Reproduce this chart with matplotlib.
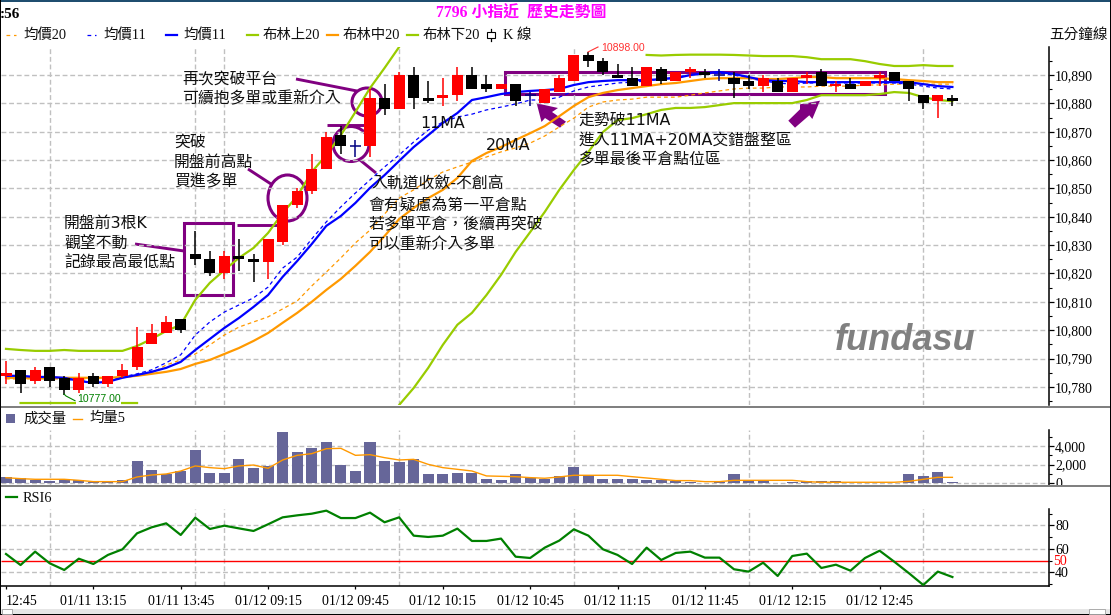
#!/usr/bin/env python3
"""
Five minute K line chart of 7796 with volume and RSI panels
"""
import numpy as np
import matplotlib
matplotlib.use('Agg')
import matplotlib.pyplot as plt
from matplotlib.patches import Ellipse, Polygon, Rectangle
from matplotlib.ticker import MultipleLocator, StrMethodFormatter

opens = [10784, 10786, 10782, 10787, 10783, 10779, 10784, 10781, 10784, 10787,
         10795, 10799, 10804, 10827, 10825, 10820, 10826, 10825, 10824, 10831,
         10844, 10849, 10857, 10869, 10865, 10865, 10882, 10878, 10890, 10882,
         10882, 10883, 10890, 10887, 10885, 10887, 10883, 10880, 10884, 10888,
         10897, 10895, 10890, 10889, 10886, 10892, 10888, 10891, 10891, 10890,
         10889, 10888, 10886, 10888, 10884, 10889, 10891, 10886, 10887, 10886,
         10889, 10891, 10888, 10883, 10881, 10882]
highs = [10789, 10786, 10787, 10787, 10784, 10785, 10785, 10784, 10788, 10801,
         10802, 10805, 10804, 10835, 10828, 10828, 10832, 10827, 10832, 10844,
         10850, 10862, 10870, 10872, 10867, 10885, 10887, 10891, 10893, 10888,
         10889, 10893, 10893, 10890, 10887, 10887, 10884, 10885, 10890, 10897,
         10898, 10896, 10894, 10893, 10893, 10893, 10891, 10893, 10892, 10892,
         10891, 10890, 10890, 10889, 10889, 10891, 10892, 10888, 10889, 10888,
         10891, 10891, 10888, 10883, 10883, 10883]
lows = [10781, 10778, 10781, 10780, 10777, 10778, 10780, 10780, 10783, 10786,
        10795, 10799, 10799, 10823, 10819, 10818, 10821, 10817, 10818, 10830,
        10843, 10848, 10857, 10862, 10861, 10861, 10876, 10878, 10878, 10880,
        10879, 10881, 10885, 10884, 10885, 10879, 10879, 10880, 10884, 10888,
        10893, 10890, 10889, 10886, 10886, 10887, 10888, 10889, 10889, 10888,
        10882, 10885, 10884, 10884, 10884, 10887, 10886, 10884, 10885, 10886,
        10886, 10888, 10881, 10878, 10875, 10879]
closes = [10785, 10781, 10786, 10782, 10779, 10783, 10781, 10784, 10786, 10794,
          10799, 10803, 10800, 10825, 10820, 10826, 10825, 10824, 10832, 10844,
          10849, 10857, 10868, 10865, 10865, 10882, 10878, 10890, 10882, 10881,
          10883, 10890, 10885, 10885, 10887, 10881, 10883, 10885, 10889, 10897,
          10895, 10891, 10889, 10886, 10893, 10888, 10891, 10892, 10890, 10890,
          10887, 10886, 10889, 10884, 10889, 10890, 10886, 10887, 10885, 10888,
          10890, 10888, 10885, 10880, 10883, 10881]

nan = float('nan')
boll_upper = [10793.4, 10793.0, 10792.7, 10792.7, 10793.0, 10792.7, 10792.7, 10792.7, 10792.7, 10794.4,
              10796.9, 10799.7, 10801.9, 10810.7, 10816.7, 10821.2, 10825.5, 10829.0, 10834.3, 10841.3,
              10847.3, 10855.8, 10861.8, 10868.8, 10877.0, 10885.4, 10892.5, 10899.9, nan, nan,
              nan, nan, nan, nan, nan, nan, nan, nan, nan, nan,
              nan, nan, nan, nan, 10897.1, 10896.9, 10897.1, 10897.2, 10897.2, 10897.2,
              10897.1, 10896.9, 10896.7, 10896.7, 10896.7, 10896.3, 10895.6, 10895.6, 10895.6, 10894.9,
              10893.9, 10893.2, 10893.2, 10893.5, 10893.2, 10893.2]
boll_lower = [nan, 10774.3, 10774.3, 10774.3, 10774.3, 10774.3, 10774.3, 10774.3, 10774.3, 10774.3,
              nan, nan, nan, nan, nan, nan, nan, nan, nan, nan,
              nan, nan, nan, nan, nan, nan, 10766.0, 10773.6, 10779.6, 10786.7,
              10794.8, 10801.9, 10806.1, 10812.4, 10819.5, 10827.6, 10834.6, 10841.7, 10849.5, 10856.5,
              10862.9, 10869.9, 10874.1, 10874.8, 10876.2, 10877.7, 10878.4, 10878.4, 10878.7, 10879.4,
              10880.1, 10880.1, 10880.1, 10880.1, 10880.1, 10881.2, 10882.9, 10882.9, 10882.9, 10882.9,
              10883.3, 10884.0, 10883.7, 10882.2, 10881.2, 10880.8]
boll_mid = [10783.2, 10783.2, 10783.2, 10783.2, 10783.2, 10783.2, 10783.2, 10783.2, 10783.5, 10783.9,
            10784.6, 10785.3, 10786.3, 10788.1, 10789.5, 10791.6, 10793.7, 10796.2, 10799.0, 10802.6,
            10806.1, 10810.0, 10814.2, 10818.1, 10822.7, 10827.6, 10833.2, 10839.2, 10843.1, 10846.6,
            10849.5, 10853.7, 10859.7, 10862.5, 10864.6, 10867.1, 10869.5, 10872.0, 10875.5, 10879.1,
            10882.2, 10883.7, 10884.7, 10885.4, 10886.1, 10886.8, 10887.2, 10887.9, 10888.6, 10888.9,
            10888.9, 10888.9, 10888.6, 10888.6, 10888.9, 10889.3, 10889.3, 10888.9, 10888.9, 10888.9,
            10888.9, 10888.6, 10888.2, 10887.9, 10887.5, 10887.5]
avg_price_11 = [10783.9, 10783.9, 10783.5, 10783.5, 10783.2, 10782.1, 10781.4, 10781.8, 10783.2, 10784.2,
                10785.3, 10786.7, 10788.8, 10793.0, 10796.9, 10800.8, 10804.3, 10808.2, 10812.4, 10818.8,
                10824.4, 10830.4, 10836.8, 10840.3, 10844.9, 10850.2, 10854.7, 10859.7, 10864.6, 10868.8,
                10873.1, 10876.6, 10881.2, 10882.2, 10883.3, 10884.0, 10884.4, 10884.7, 10885.1, 10886.5,
                10887.5, 10887.9, 10888.2, 10888.2, 10888.2, 10888.6, 10888.9, 10890.0, 10890.7, 10891.1,
                10890.4, 10889.3, 10888.2, 10887.9, 10887.9, 10887.5, 10887.5, 10887.5, 10887.5, 10887.5,
                10887.5, 10887.5, 10887.5, 10886.8, 10886.1, 10885.8]
avg_price_11_dash = [10783.5, 10783.5, 10783.5, 10783.2, 10782.8, 10782.1, 10781.8, 10782.1, 10783.5, 10784.6,
                     10786.0, 10788.5, 10791.3, 10798.3, 10802.9, 10806.4, 10808.9, 10811.4, 10815.2, 10821.9,
                     10825.8, 10832.2, 10838.2, 10843.5, 10848.4, 10853.0, 10857.6, 10861.8, 10866.4, 10870.6,
                     10873.4, 10875.2, 10876.2, 10877.7, 10878.7, 10879.8, 10881.2, 10881.2, 10882.2, 10884.4,
                     10885.8, 10886.5, 10887.2, 10887.5, 10887.9, 10888.6, 10889.3, 10890.0, 10890.4, 10890.7,
                     10890.0, 10888.9, 10887.9, 10887.2, 10886.8, 10887.2, 10887.2, 10887.2, 10887.2, 10887.2,
                     10887.2, 10887.2, 10886.8, 10886.1, 10885.4, 10885.1]
avg_price_20_dash = [10782.8, 10782.8, 10782.8, 10782.8, 10782.8, 10782.8, 10782.8, 10782.8, 10783.2, 10783.9,
                     10784.9, 10787.7, 10789.5, 10791.6, 10794.8, 10798.3, 10801.1, 10802.9, 10804.7, 10807.5,
                     10810.3, 10815.6, 10820.5, 10825.5, 10830.8, 10835.3, 10841.0, 10846.6, 10849.5, 10853.0,
                     10855.8, 10857.6, 10859.3, 10861.1, 10862.9, 10864.3, 10866.0, 10868.5, 10871.7, 10874.8,
                     10878.7, 10880.5, 10881.2, 10881.5, 10882.2, 10882.2, 10882.2, 10882.9, 10883.7, 10884.4,
                     10885.1, 10885.4, 10885.4, 10885.8, 10885.8, 10885.8, 10886.1, 10886.1, 10886.1, 10886.5,
                     10886.5, 10886.8, 10886.8, 10886.8, 10886.8, 10886.8]

volume = [680, 570, 390, 250, 430, 360, 180, 180, 360, 2390,
          1430, 1000, 1320, 3570, 1100, 1100, 2600, 1640, 1860, 5500,
          3360, 3780, 4430, 1960, 1320, 4430, 2390, 2290, 2600, 1000,
          1000, 1100, 1100, 460, 360, 1000, 570, 460, 790, 1750,
          860, 460, 460, 460, 360, 390, 250, 140, 40, 180,
          1000, 250, 280, 40, 110, 210, 210, 210, 40, 40,
          40, 40, 1000, 790, 1210, 140]
volume_avg5 = [600, 500, 430, 430, 430, 320, 180, 180, 180, 680,
               890, 1000, 1320, 1860, 1680, 1570, 1860, 1960, 1610, 2500,
               3000, 3180, 3710, 3750, 3000, 3070, 2750, 2500, 2570, 2030,
               1680, 1500, 1320, 790, 750, 710, 610, 540, 680, 860,
               860, 860, 860, 710, 570, 430, 290, 290, 180, 180,
               320, 320, 320, 320, 320, 180, 110, 110, 110, 110,
               110, 110, 210, 430, 640, 640]
rsi6 = [55.6, 46.2, 57.6, 47.7, 42.0, 51.6, 47.1, 54.8, 59.6, 73.2,
        78.3, 81.7, 71.8, 86.5, 76.9, 79.7, 77.4, 75.2, 80.9, 86.8,
        88.5, 89.9, 92.5, 86.2, 86.2, 90.8, 82.6, 86.8, 71.2, 70.1,
        71.2, 77.2, 66.7, 66.7, 68.7, 53.3, 52.2, 61.0, 67.0, 76.6,
        71.2, 59.6, 54.8, 47.1, 61.0, 50.5, 56.5, 57.6, 52.5, 52.5,
        42.6, 40.6, 48.2, 36.9, 53.9, 55.9, 43.7, 46.5, 41.4, 52.2,
        58.4, 49.1, 39.4, 29.2, 40.6, 36.0]

time_ticks = [0, 6, 12, 18, 24, 30, 36, 42, 48, 54, 60]
time_labels = ['12:45', '01/11 13:15', '01/11 13:45', '01/12 09:15', '01/12 09:45',
               '01/12 10:15', '01/12 10:45', '01/12 11:15', '01/12 11:45',
               '01/12 12:15', '01/12 12:45']
vgrid_positions = [3, 13, 15, 27, 39, 51, 63]

W, H = 1111, 615
RED = '#FF0000'
NAVY = '#000080'
BLUE = '#0000FF'
ORANGE = '#FF9900'
LIME = '#99CC00'
PURPLE = '#800080'
GREEN = '#008000'
GRID = '#C0C0C0'
TEXT = '#101010'
CJK = ['Noto Sans CJK TC', 'DejaVu Sans']
WIDE = ['DejaVu Sans', 'Noto Sans CJK TC']
SERIF = ['Liberation Serif', 'Noto Sans CJK TC']
DASH = (0, (3.5, 2))
LINE_WIDTH = 1.6

plt.rcParams['font.family'] = CJK

x = np.arange(len(opens))
xlim = ((1 - 6) / 14.56, (1049 - 6) / 14.56)


def add_panel(fig, left, right, top, bottom, ylim, zorder=1):
    """ Adds axes placed by pixel box, with only the right axis visible """
    ax = fig.add_axes([left / W, 1 - bottom / H, (right - left) / W, (bottom - top) / H],
                      zorder=zorder)
    ax.patch.set_visible(False)
    ax.set_xlim(xlim)
    ax.set_ylim(ylim)
    for side in ['left', 'top', 'bottom']:
        ax.spines[side].set_visible(False)
    ax.spines['right'].set_linewidth(1.1)
    ax.yaxis.tick_right()
    ax.set_xticks([])
    ax.tick_params(axis='y', which='major', length=3.6, width=0.9, pad=0.8, labelsize=10,
                   labelfontfamily='Liberation Serif', colors='black')
    ax.tick_params(axis='y', which='minor', length=2, width=0.8)
    ax.vlines(vgrid_positions, ylim[0], ylim[1], color=GRID, linewidth=1, linestyles=[DASH], zorder=0.5)
    return ax


def overlay(fig, zorder):
    """ Full figure axes in pixel coordinates for notes and frame """
    ax = fig.add_axes([0, 0, 1, 1], zorder=zorder)
    ax.set_xlim(0, W)
    ax.set_ylim(H, 0)
    ax.axis('off')
    return ax


def hgrid(ax, values):
    """ Draws the horizontal dashed grid """
    ax.hlines(values, xlim[0], xlim[1], color=GRID, linewidth=1, linestyles=[DASH], zorder=0.5)


def note(ax, px, py, text, size=11.4, family=None, color=TEXT, **kwargs):
    """ Writes one line of text at a pixel position """
    ax.text(px, py, text, fontsize=size, family=family or WIDE, color=color,
            ha=kwargs.pop('ha', 'left'), va='center', **kwargs)


fig = plt.figure(figsize=(W / 100, H / 100), dpi=100, facecolor='white')
back = overlay(fig, 0)
front = overlay(fig, 5)

# price panel
ax_price = add_panel(fig, 1, 1049, 47, 405, (10773.6, 10899.9))
hgrid(ax_price, np.arange(10780, 10900, 10))
ax_price.yaxis.set_major_locator(MultipleLocator(10))
ax_price.yaxis.set_minor_locator(MultipleLocator(5))
ax_price.yaxis.set_major_formatter(StrMethodFormatter('{x:,.0f}'))

ax_price.plot(x, avg_price_20_dash, color=ORANGE, linewidth=0.9, linestyle=(0, (3, 2.5)), zorder=1.5)
ax_price.plot(x, avg_price_11_dash, color=BLUE, linewidth=0.9, linestyle=(0, (3, 2.5)), zorder=1.6)
ax_price.plot(x, boll_upper, color=LIME, linewidth=LINE_WIDTH, zorder=2)
ax_price.plot(x, boll_lower, color=LIME, linewidth=LINE_WIDTH, zorder=2)
ax_price.plot(x, boll_mid, color=ORANGE, linewidth=LINE_WIDTH, zorder=2.1)
ax_price.plot(x, avg_price_11, color=BLUE, linewidth=LINE_WIDTH, zorder=2.2)

o, h, l, c = map(np.array, (opens, highs, lows, closes))
colors = np.where(c > o, RED, np.where(c < o, 'black', NAVY))
ax_price.vlines(x, l, h, colors=colors, linewidth=1.1, zorder=3)
ax_price.bar(x, np.abs(c - o), bottom=np.minimum(o, c), width=0.76, color=colors, linewidth=0, zorder=3.1)
doji = c == o
ax_price.hlines(c[doji], x[doji] - 0.38, x[doji] + 0.38, color=NAVY, linewidth=1.1, zorder=3.1)

# volume panel
ax_vol = add_panel(fig, 1, 1049, 430, 485, (-182, 5716))
hgrid(ax_vol, [0, 2000, 4000])
ax_vol.yaxis.set_major_locator(MultipleLocator(2000))
ax_vol.yaxis.set_minor_locator(MultipleLocator(1000))
ax_vol.yaxis.set_major_formatter(StrMethodFormatter('{x:,.0f}'))
ax_vol.bar(x, volume, width=0.76, color='#666699', linewidth=0, zorder=2)
ax_vol.plot(x, volume_avg5, color=ORANGE, linewidth=1, zorder=3)

# RSI panel
ax_rsi = add_panel(fig, 1, 1049, 509, 586.3, (28.1, 93.9))
hgrid(ax_rsi, [40, 60, 80])
ax_rsi.yaxis.set_major_locator(MultipleLocator(20))
ax_rsi.yaxis.set_minor_locator(MultipleLocator(10))
ax_rsi.hlines(50, xlim[0], xlim[1], color=RED, linewidth=1, zorder=2)
ax_rsi.plot(x, rsi6, color=GREEN, linewidth=LINE_WIDTH, zorder=3)
ax_rsi.text(1.004, 49.3, '50', transform=ax_rsi.get_yaxis_transform(), color=RED, fontsize=10,
            family='Liberation Serif', va='center', ha='left')
ax_rsi.spines['bottom'].set_visible(True)
ax_rsi.spines['bottom'].set_linewidth(1.1)
ax_rsi.set_xticks(time_ticks)
ax_rsi.set_xticklabels(time_labels, fontsize=10, family='Liberation Serif')
ax_rsi.tick_params(axis='x', length=2.5, width=0.9, pad=3.5)
ax_rsi.get_xticklabels()[0].set_ha('left')

# purple marks sit behind the candles
for shape in [Rectangle((184, 223), 49, 72), Rectangle((505, 72), 380, 22)]:
    shape.set(fill=False, edgecolor=PURPLE, linewidth=2.2)
    back.add_patch(shape)
for cx, cy, rx, ry in [(287.5, 198, 19.5, 23), (351, 144, 18, 17.5), (367, 102, 15, 14)]:
    back.add_patch(Ellipse((cx, cy), 2 * rx, 2 * ry, fill=False, edgecolor=PURPLE, linewidth=2.2))
for xs, ys in [((135, 184), (244, 251)), ((237, 282), (225, 225)), ((248, 271), (169, 184)),
               ((327, 366), (124.5, 124.5)), ((360, 376), (160, 173)), ((296, 357), (79, 91))]:
    back.plot(xs, ys, color=PURPLE, linewidth=2.1, solid_capstyle='butt')
back.add_patch(Polygon([(536.7, 103.3), (558, 108), (552, 112), (566, 121.7), (560, 127.7),
                        (545, 118), (541.5, 122)], color=PURPLE, linewidth=0))
back.add_patch(Polygon([(820, 100.7), (800, 104.3), (800, 109.3), (788.3, 120.7), (795, 127.7),
                        (809.3, 115.3), (812.3, 119)], color=PURPLE, linewidth=0))

# panel separators and window frame
front.add_patch(Rectangle((1050, 485), 55, 12, color='white', linewidth=0))
for top in [405.8, 484.8]:
    front.add_patch(Rectangle((0, top), W, 2, color='#808080', linewidth=0))
front.add_patch(Rectangle((0, 0), W, 1.6, color='#1F4E6F', linewidth=0))
front.add_patch(Rectangle((0, 0), 1.2, H, color='black', linewidth=0))
front.add_patch(Rectangle((W - 1, 0), 1, H, color='black', linewidth=0))
front.add_patch(Rectangle((0, 613.6), W, 1.4, color='black', linewidth=0))
front.add_patch(Rectangle((1, 608.5), W - 2, 5, color='#E6E6E6', linewidth=0))
front.add_patch(Rectangle((2, 608.5), 10, 5, facecolor='white', edgecolor='#A0A0A0', linewidth=0.6))
front.add_patch(Rectangle((1089, 608.5), 16, 5, facecolor='white', edgecolor='#A0A0A0', linewidth=0.6))

# header
note(front, 0, 14, ':56', size=11, family=SERIF, color='black', fontweight='bold')
note(front, 436, 13, '7796 小指近  歷史走勢圖', size=11.4, family=SERIF, color='#FF00FF', fontweight='bold')
note(front, 1049, 35, '五分鐘線', size=10.5, family=CJK)

# legend row
legend_items = [(6.4, 16, 23, '均價20', ORANGE, True), (87, 96, 103, '均價11', BLUE, True),
                (166, 177, 183, '均價11', BLUE, False), (247, 258, 262.5, '布林上20', LIME, False),
                (327, 337.5, 343, '布林中20', ORANGE, False), (407, 418, 422.5, '布林下20', LIME, False)]
for x0, x1, tx, label, color, dashed in legend_items:
    if dashed:
        front.plot((x0, x1), (35, 35), color=color, linewidth=0.9, linestyle=(0, (3, 3)))
    else:
        front.plot((x0, x1), (35, 35), color=color, linewidth=LINE_WIDTH)
    note(front, tx, 35, label, size=10.4, family=SERIF)
front.plot((491, 491), (29, 41), color='black', linewidth=0.9)
front.add_patch(Rectangle((487, 32), 8, 6, facecolor='white', edgecolor='black', linewidth=0.8, zorder=3))
note(front, 503, 35, 'K 線', size=10.4, family=SERIF)

front.add_patch(Rectangle((6.4, 414), 8.6, 9, color='#666699', linewidth=0))
note(front, 23, 418.5, '成交量', size=10.4, family=CJK)
front.plot((72.5, 82), (418.5, 418.5), color=ORANGE, linewidth=1)
note(front, 89, 418.5, '均量5', size=10.4, family=SERIF)
front.plot((6.4, 17), (497.3, 497.3), color=GREEN, linewidth=LINE_WIDTH)
note(front, 22.5, 498, 'RSI6', size=10.4, family=SERIF)

# annotations on the chart
for px, py, text in [
        (182, 79, '再次突破平台'), (182, 99, '可續抱多單或重新介入'),
        (174, 142, '突破'), (174, 162, '開盤前高點'), (174, 182, '買進多單'),
        (64, 223, '開盤前3根K'), (64, 243, '觀望不動'), (64, 263, '記錄最高最低點'),
        (371, 184, '入軌道收斂-不創高'), (368, 205, '會有疑慮為第一平倉點'),
        (368, 225, '若多單平倉，後續再突破'), (368, 245, '可以重新介入多單'),
        (420, 123, '11MA'), (486, 145, '20MA'),
        (578.6, 120, '走勢破11MA'), (578.6, 140, '進入11MA+20MA交錯盤整區'),
        (578.6, 160, '多單最後平倉點位區')]:
    note(front, px, py, text)

# high and low labels
front.plot((588, 598), (52, 47), color='#FF3333', linewidth=0.8)
note(front, 601, 48, '10898.00', size=7.6, family='Liberation Sans', color='#FF3333')
front.plot((64, 66, 75), (394, 396, 400.7), color=GREEN, linewidth=0.8)
note(front, 77, 399, '10777.00', size=7.6, family='Liberation Sans', color=GREEN,
     bbox=dict(facecolor='white', edgecolor='none', pad=0.6))

note(front, 835, 340, 'fundasu', size=26, family='Liberation Sans', color='#808080',
     fontweight='bold', fontstyle='italic')

fig.savefig('out.png', dpi=100)
plt.close(fig)
